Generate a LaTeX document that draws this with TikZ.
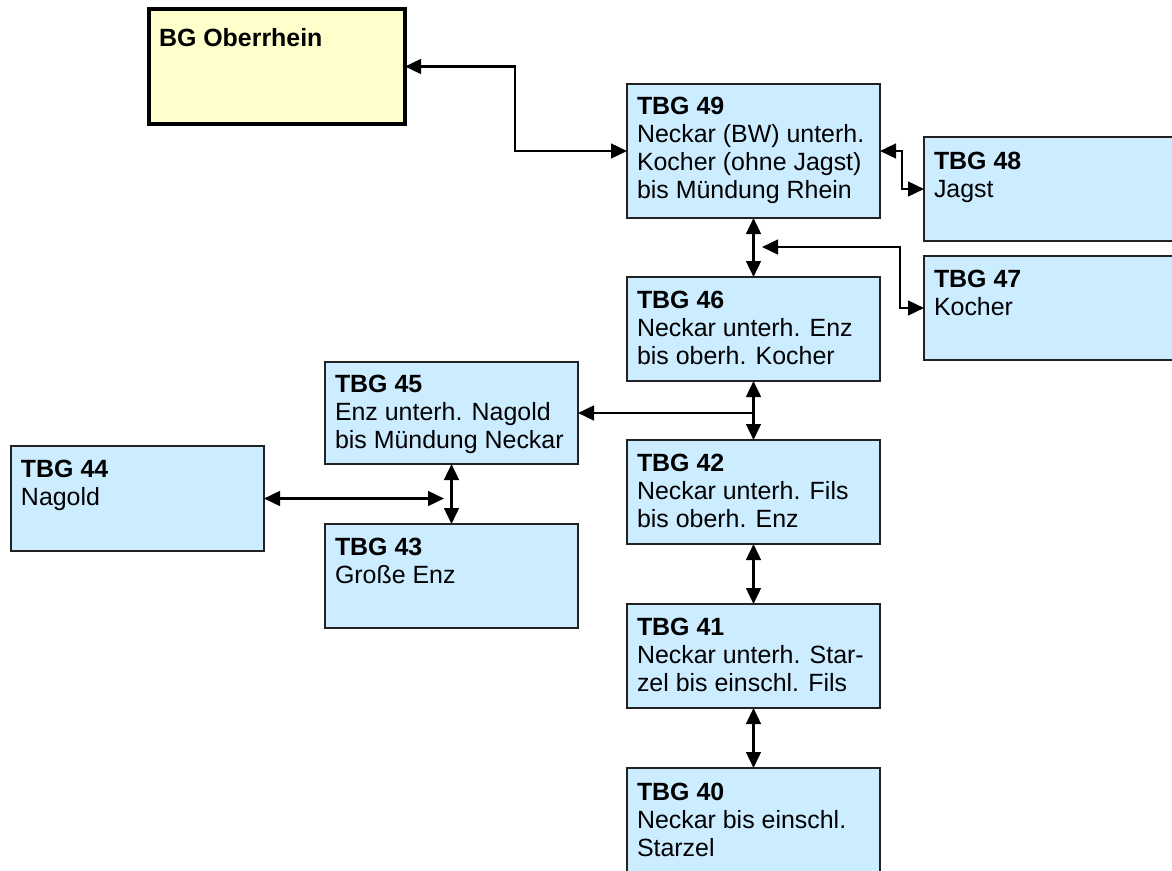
\documentclass[tikz,border=0pt]{standalone}
\usepackage{fontspec}
\setmainfont{Liberation Sans}
\usetikzlibrary{arrows.meta}
\definecolor{boxblue}{HTML}{CCECFF}
\definecolor{boxyellow}{HTML}{FFFFCC}
\definecolor{boxline}{HTML}{222222}
\tikzset{
  tbox/.style={draw=boxline, line width=1.1pt, fill=boxblue, anchor=north west, inner sep=0pt, outer sep=0pt},
  ybox/.style={draw=black, line width=2.6pt, fill=boxyellow, anchor=north west, inner sep=0pt, outer sep=0pt},
  txt/.style={anchor=north west, inner sep=0pt, outer sep=0pt, align=left, font=\fontsize{18.7pt}{21pt}\selectfont},
  tip/.tip={Triangle[length=12pt,width=11pt]},
  conn/.style={line width=1.9pt, draw=black, tip-tip},
  oneway/.style={line width=1.9pt, draw=black, -tip}
}
\newcommand\mkbox[8]{%
  \node[#2, minimum width=#5*0.75pt, minimum height=#6*0.75pt] (#1) at (#3,#4) {};
  \node[txt] (#1t) at (#3+10,#4+#7) {#8};
}
\begin{document}
\begin{tikzpicture}[x=0.75pt,y=-0.75pt]
\useasboundingbox (0,0) rectangle (1172,871);
\clip (0,0) rectangle (1172,871);
\fill[white] (0,0) rectangle (1172,871);

\mkbox{bg}{ybox}{149}{9}{256}{115}{19}{\textbf{BG Oberrhein}}
\mkbox{t49}{tbox}{627}{84}{253}{134}{13}{\textbf{TBG 49}\\Neckar (BW) unterh.\\Kocher (ohne Jagst)\\bis Mündung Rhein}
\mkbox{t48}{tbox}{924}{137}{262}{104}{15}{\textbf{TBG 48}\\Jagst}
\mkbox{t47}{tbox}{924}{256}{262}{104}{14}{\textbf{TBG 47}\\Kocher}
\mkbox{t46}{tbox}{627}{277}{253}{104}{14}{\textbf{TBG 46}\\Neckar unterh. Enz\\bis oberh. Kocher}
\mkbox{t45}{tbox}{325}{362}{253}{102}{13}{\textbf{TBG 45}\\Enz unterh. Nagold\\bis Mündung Neckar}
\mkbox{t42}{tbox}{627}{440}{253}{104}{14}{\textbf{TBG 42}\\Neckar unterh. Fils\\bis oberh. Enz}
\mkbox{t44}{tbox}{11}{446}{253}{105}{14}{\textbf{TBG 44}\\Nagold}
\mkbox{t43}{tbox}{325}{524}{253}{104}{14}{\textbf{TBG 43}\\Große Enz}
\mkbox{t41}{tbox}{627}{604}{253}{104}{14}{\textbf{TBG 41}\\Neckar unterh. Star-\\zel bis einschl. Fils}
\mkbox{t40}{tbox}{627}{768}{253}{112}{15}{\textbf{TBG 40}\\Neckar bis einschl.\\Starzel}

\coordinate (j1) at (762,247);
\coordinate (j2) at (444,497);

\draw[conn] (bg.east) -- ++(110,0) |- (t49.west);
\draw[conn] (t49.east) -- ++(22,0) |- (t48.west);
\draw[conn] (j1) -- ++(138,0) |- (t47.west);
\draw[conn] (t49.south) -- (t46.north);
\draw[conn] (t46.south) -- (t42.north);
\draw[oneway] (t46.south |- t45.east) -- (t45.east);
\draw[conn] (t45.south) -- (t43.north);
\draw[conn] (t44.east) -- (t44.east -| j2);
\draw[conn] (t42.south) -- (t41.north);
\draw[conn] (t41.south) -- (t40.north);
\end{tikzpicture}
\end{document}
